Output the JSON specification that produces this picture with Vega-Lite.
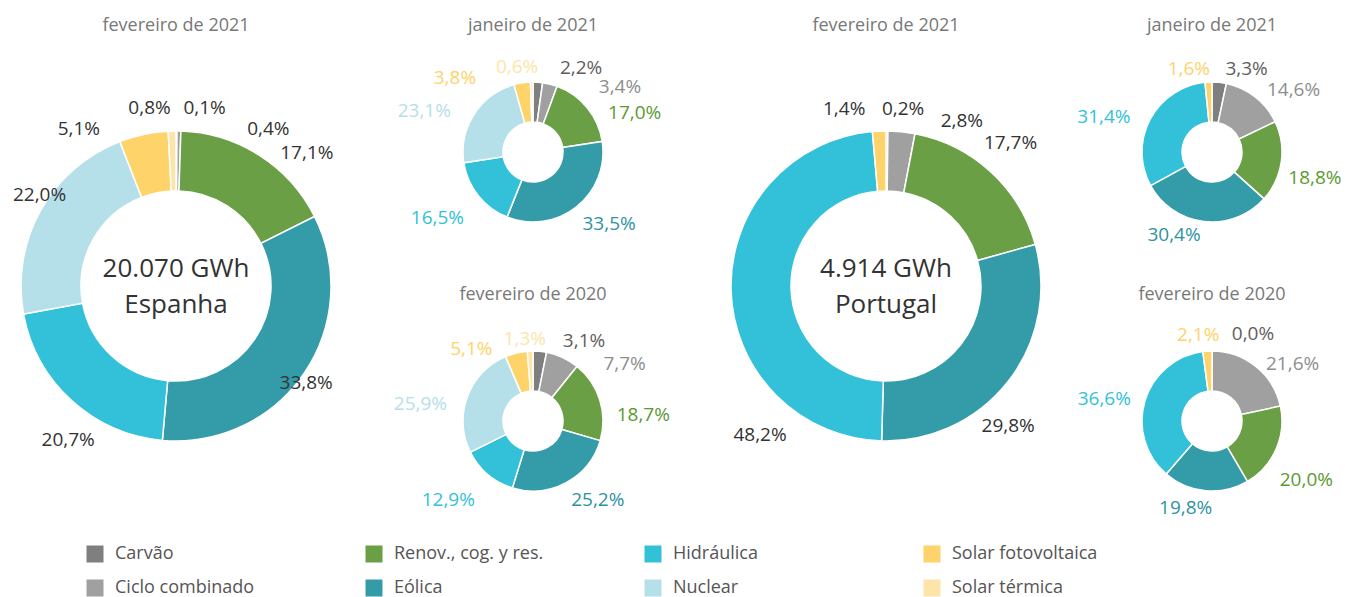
{
  "$schema": "https://vega.github.io/schema/vega-lite/v6.json",
  "background": "white",
  "padding": {"left": 12, "top": 17, "right": 0, "bottom": 0},
  "datasets": {
    "rows": [
      {"chart": "ES_2021_02", "cat": "Carvão", "ord": 1, "v": 0.001},
      {"chart": "ES_2021_02", "cat": "Ciclo combinado", "ord": 2, "v": 0.004},
      {"chart": "ES_2021_02", "cat": "Renov., cog. y res.", "ord": 3, "v": 0.171},
      {"chart": "ES_2021_02", "cat": "Eólica", "ord": 4, "v": 0.338},
      {"chart": "ES_2021_02", "cat": "Hidráulica", "ord": 5, "v": 0.207},
      {"chart": "ES_2021_02", "cat": "Nuclear", "ord": 6, "v": 0.220},
      {"chart": "ES_2021_02", "cat": "Solar fotovoltaica", "ord": 7, "v": 0.051},
      {"chart": "ES_2021_02", "cat": "Solar térmica", "ord": 8, "v": 0.008},
      {"chart": "ES_2021_01", "cat": "Carvão", "ord": 1, "v": 0.022},
      {"chart": "ES_2021_01", "cat": "Ciclo combinado", "ord": 2, "v": 0.034},
      {"chart": "ES_2021_01", "cat": "Renov., cog. y res.", "ord": 3, "v": 0.170},
      {"chart": "ES_2021_01", "cat": "Eólica", "ord": 4, "v": 0.335},
      {"chart": "ES_2021_01", "cat": "Hidráulica", "ord": 5, "v": 0.165},
      {"chart": "ES_2021_01", "cat": "Nuclear", "ord": 6, "v": 0.231},
      {"chart": "ES_2021_01", "cat": "Solar fotovoltaica", "ord": 7, "v": 0.038},
      {"chart": "ES_2021_01", "cat": "Solar térmica", "ord": 8, "v": 0.006},
      {"chart": "ES_2020_02", "cat": "Carvão", "ord": 1, "v": 0.031},
      {"chart": "ES_2020_02", "cat": "Ciclo combinado", "ord": 2, "v": 0.077},
      {"chart": "ES_2020_02", "cat": "Renov., cog. y res.", "ord": 3, "v": 0.187},
      {"chart": "ES_2020_02", "cat": "Eólica", "ord": 4, "v": 0.252},
      {"chart": "ES_2020_02", "cat": "Hidráulica", "ord": 5, "v": 0.129},
      {"chart": "ES_2020_02", "cat": "Nuclear", "ord": 6, "v": 0.259},
      {"chart": "ES_2020_02", "cat": "Solar fotovoltaica", "ord": 7, "v": 0.051},
      {"chart": "ES_2020_02", "cat": "Solar térmica", "ord": 8, "v": 0.013},
      {"chart": "PT_2021_02", "cat": "Carvão", "ord": 1, "v": 0.002},
      {"chart": "PT_2021_02", "cat": "Ciclo combinado", "ord": 2, "v": 0.028},
      {"chart": "PT_2021_02", "cat": "Renov., cog. y res.", "ord": 3, "v": 0.177},
      {"chart": "PT_2021_02", "cat": "Eólica", "ord": 4, "v": 0.298},
      {"chart": "PT_2021_02", "cat": "Hidráulica", "ord": 5, "v": 0.482},
      {"chart": "PT_2021_02", "cat": "Solar fotovoltaica", "ord": 7, "v": 0.014},
      {"chart": "PT_2021_01", "cat": "Carvão", "ord": 1, "v": 0.033},
      {"chart": "PT_2021_01", "cat": "Ciclo combinado", "ord": 2, "v": 0.146},
      {"chart": "PT_2021_01", "cat": "Renov., cog. y res.", "ord": 3, "v": 0.188},
      {"chart": "PT_2021_01", "cat": "Eólica", "ord": 4, "v": 0.304},
      {"chart": "PT_2021_01", "cat": "Hidráulica", "ord": 5, "v": 0.314},
      {"chart": "PT_2021_01", "cat": "Solar fotovoltaica", "ord": 7, "v": 0.016},
      {"chart": "PT_2020_02", "cat": "Carvão", "ord": 1, "v": 0.000},
      {"chart": "PT_2020_02", "cat": "Ciclo combinado", "ord": 2, "v": 0.216},
      {"chart": "PT_2020_02", "cat": "Renov., cog. y res.", "ord": 3, "v": 0.200},
      {"chart": "PT_2020_02", "cat": "Eólica", "ord": 4, "v": 0.198},
      {"chart": "PT_2020_02", "cat": "Hidráulica", "ord": 5, "v": 0.366},
      {"chart": "PT_2020_02", "cat": "Solar fotovoltaica", "ord": 7, "v": 0.021}
    ],
    "totals": [
      {"chart": "ES_2021_02", "gwh": 20070, "name": "Espanha"},
      {"chart": "PT_2021_02", "gwh": 4914, "name": "Portugal"}
    ]
  },
  "config": {
    "view": {"stroke": null},
    "font": "Open Sans",
    "locale": {"number": {"decimal": ",", "thousands": ".", "grouping": [3], "currency": ["", " GWh"]}},
    "title": {"fontSize": 18, "color": "#787878", "fontWeight": "normal", "font": "Open Sans", "frame": "group", "baseline": "alphabetic", "offset": 17},
    "legend": {
      "symbolType": "square", "symbolSize": 289, "symbolStrokeWidth": 0,
      "labelFontSize": 18, "labelFont": "Open Sans", "labelColor": "#555555", "labelOffset": 11,
      "rowPadding": 16, "columnPadding": 100, "gridAlign": "all", "labelLimit": 300
    }
  },
  "spacing": 33,
  "resolve": {"scale": {"theta": "independent", "color": "shared", "fill": "shared"}, "legend": {"color": "shared"}},
  "hconcat": [
    {
      "title": {"text": "fevereiro de 2021"},
      "width": 324, "height": 468,
      "layer": [
        {
          "data": {"name": "rows"},
          "transform": [{"filter": "datum.chart === 'ES_2021_02'"}],
          "mark": {"type": "arc", "innerRadius": 95, "outerRadius": 155, "stroke": "white", "strokeWidth": 1.5},
          "encoding": {
            "theta": {"field": "v", "type": "quantitative", "stack": true},
            "order": {"field": "ord", "type": "quantitative"},
            "color": {"field": "cat", "type": "nominal", "title": null,
              "legend": {"orient": "none", "legendX": 72, "legendY": 493, "direction": "horizontal", "columns": 4, "title": null},
              "scale": {"domain": ["Carvão", "Renov., cog. y res.", "Hidráulica", "Solar fotovoltaica", "Ciclo combinado", "Eólica", "Nuclear", "Solar térmica"],
                        "range": ["#7f7f7f", "#6a9f46", "#33c1d9", "#fdd36a", "#a0a0a0", "#349ca8", "#b5e0ea", "#fde5a9"]}}
          }
        },
        {
          "data": {"name": "rows"},
          "transform": [{"filter": "datum.chart === 'ES_2021_02'"}],
          "mark": {"type": "text", "radius": 178, "fontSize": 19, "font": "Open Sans", "color": "#333333",
            "dx": {"expr": "[28,89,35,-17,12,19,-60,-22][datum.ord-1]"},
            "dy": {"expr": "[0,21,17,-3,22,-4,17,0][datum.ord-1]"}},
          "encoding": {
            "theta": {"field": "v", "type": "quantitative", "stack": true},
            "order": {"field": "ord", "type": "quantitative"},
            "text": {"field": "v", "type": "quantitative", "format": ".1%"}
          }
        },
        {
          "data": {"name": "totals"},
          "transform": [{"filter": "datum.chart === 'ES_2021_02'"}],
          "mark": {"type": "text", "fontSize": 26, "font": "Open Sans", "color": "#333333", "dy": -17},
          "encoding": {"text": {"field": "gwh", "type": "quantitative", "format": "$,.0f"}}
        },
        {
          "data": {"name": "totals"},
          "transform": [{"filter": "datum.chart === 'ES_2021_02'"}],
          "mark": {"type": "text", "fontSize": 26, "font": "Open Sans", "color": "#333333", "dy": 19},
          "encoding": {"text": {"field": "name", "type": "nominal"}}
        }
      ]
    },
    {
      "bounds": "flush",
      "spacing": 69,
      "resolve": {"scale": {"theta": "independent", "color": "shared", "fill": "shared"}, "legend": {"color": "shared"}},
      "vconcat": [
        {
          "title": {"text": "janeiro de 2021"},
          "width": 324, "height": 200,
          "data": {"name": "rows"},
          "transform": [{"filter": "datum.chart === 'ES_2021_01'"}],
          "layer": [
            {
              "mark": {"type": "arc", "innerRadius": 30, "outerRadius": 70, "stroke": "white", "strokeWidth": 1.5},
              "encoding": {
                "theta": {"field": "v", "type": "quantitative", "stack": true},
                "order": {"field": "ord", "type": "quantitative"},
                "color": {"field": "cat", "type": "nominal", "title": null,
                  "legend": {"orient": "none", "legendX": 72, "legendY": 493, "direction": "horizontal", "columns": 4, "title": null},
                  "scale": {"domain": ["Carvão", "Renov., cog. y res.", "Hidráulica", "Solar fotovoltaica", "Ciclo combinado", "Eólica", "Nuclear", "Solar térmica"],
                            "range": ["#7f7f7f", "#6a9f46", "#33c1d9", "#fdd36a", "#a0a0a0", "#349ca8", "#b5e0ea", "#fde5a9"]}}
              }
            },
            {
              "mark": {"type": "text", "radius": 103, "fontSize": 19, "font": "Open Sans",
                "dx": {"expr": "[41,62,22,12,-15,-22,-62,-14][datum.ord-1]"},
                "dy": {"expr": "[19,35,26,-9,2,15,28,18][datum.ord-1]"}},
              "encoding": {
                "theta": {"field": "v", "type": "quantitative", "stack": true},
                "order": {"field": "ord", "type": "quantitative"},
                "text": {"field": "v", "type": "quantitative", "format": ".1%"},
                "fill": {"field": "cat", "type": "nominal", "legend": null,
                  "scale": {"domain": ["Carvão", "Renov., cog. y res.", "Hidráulica", "Solar fotovoltaica", "Ciclo combinado", "Eólica", "Nuclear", "Solar térmica"],
                            "range": ["#5e5e5e", "#5b9a31", "#33c1d9", "#fdd36a", "#8e8e8e", "#2e93a0", "#b5e0ea", "#fde5a9"]}}
              }
            }
          ]
        },
        {
          "title": {"text": "fevereiro de 2020"},
          "width": 324, "height": 200,
          "data": {"name": "rows"},
          "transform": [{"filter": "datum.chart === 'ES_2020_02'"}],
          "layer": [
            {
              "mark": {"type": "arc", "innerRadius": 30, "outerRadius": 70, "stroke": "white", "strokeWidth": 1.5},
              "encoding": {
                "theta": {"field": "v", "type": "quantitative", "stack": true},
                "order": {"field": "ord", "type": "quantitative"},
                "color": {"field": "cat", "type": "nominal", "title": null,
                  "legend": {"orient": "none", "legendX": 72, "legendY": 493, "direction": "horizontal", "columns": 4, "title": null},
                  "scale": {"domain": ["Carvão", "Renov., cog. y res.", "Hidráulica", "Solar fotovoltaica", "Ciclo combinado", "Eólica", "Nuclear", "Solar térmica"],
                            "range": ["#7f7f7f", "#6a9f46", "#33c1d9", "#fdd36a", "#a0a0a0", "#349ca8", "#b5e0ea", "#fde5a9"]}}
              }
            },
            {
              "mark": {"type": "text", "radius": 103, "fontSize": 19, "font": "Open Sans",
                "dx": {"expr": "[41,48,12,16,-18,-16,-37,-4][datum.ord-1]"},
                "dy": {"expr": "[23,36,25,-12,1,19,28,21][datum.ord-1]"}},
              "encoding": {
                "theta": {"field": "v", "type": "quantitative", "stack": true},
                "order": {"field": "ord", "type": "quantitative"},
                "text": {"field": "v", "type": "quantitative", "format": ".1%"},
                "fill": {"field": "cat", "type": "nominal", "legend": null,
                  "scale": {"domain": ["Carvão", "Renov., cog. y res.", "Hidráulica", "Solar fotovoltaica", "Ciclo combinado", "Eólica", "Nuclear", "Solar térmica"],
                            "range": ["#5e5e5e", "#5b9a31", "#33c1d9", "#fdd36a", "#8e8e8e", "#2e93a0", "#b5e0ea", "#fde5a9"]}}
              }
            }
          ]
        }
      ]
    },
    {
      "title": {"text": "fevereiro de 2021"},
      "width": 298, "height": 468,
      "layer": [
        {
          "data": {"name": "rows"},
          "transform": [{"filter": "datum.chart === 'PT_2021_02'"}],
          "mark": {"type": "arc", "innerRadius": 95, "outerRadius": 155, "stroke": "white", "strokeWidth": 1.5},
          "encoding": {
            "theta": {"field": "v", "type": "quantitative", "stack": true},
            "order": {"field": "ord", "type": "quantitative"},
            "color": {"field": "cat", "type": "nominal", "title": null,
              "legend": {"orient": "none", "legendX": 72, "legendY": 493, "direction": "horizontal", "columns": 4, "title": null},
              "scale": {"domain": ["Carvão", "Renov., cog. y res.", "Hidráulica", "Solar fotovoltaica", "Ciclo combinado", "Eólica", "Nuclear", "Solar térmica"],
                        "range": ["#7f7f7f", "#6a9f46", "#33c1d9", "#fdd36a", "#a0a0a0", "#349ca8", "#b5e0ea", "#fde5a9"]}}
          }
        },
        {
          "data": {"name": "rows"},
          "transform": [{"filter": "datum.chart === 'PT_2021_02'"}],
          "mark": {"type": "text", "radius": 178, "fontSize": 19, "font": "Open Sans", "color": "#333333",
            "dx": {"expr": "[16,58,4,-18,52,0,-34,0][datum.ord-1]"},
            "dy": {"expr": "[1,12,-12,30,144,0,1,0][datum.ord-1]"}},
          "encoding": {
            "theta": {"field": "v", "type": "quantitative", "stack": true},
            "order": {"field": "ord", "type": "quantitative"},
            "text": {"field": "v", "type": "quantitative", "format": ".1%"}
          }
        },
        {
          "data": {"name": "totals"},
          "transform": [{"filter": "datum.chart === 'PT_2021_02'"}],
          "mark": {"type": "text", "fontSize": 26, "font": "Open Sans", "color": "#333333", "dy": -17},
          "encoding": {"text": {"field": "gwh", "type": "quantitative", "format": "$,.0f"}}
        },
        {
          "data": {"name": "totals"},
          "transform": [{"filter": "datum.chart === 'PT_2021_02'"}],
          "mark": {"type": "text", "fontSize": 26, "font": "Open Sans", "color": "#333333", "dy": 19},
          "encoding": {"text": {"field": "name", "type": "nominal"}}
        }
      ]
    },
    {
      "bounds": "flush",
      "spacing": 69,
      "resolve": {"scale": {"theta": "independent", "color": "shared", "fill": "shared"}, "legend": {"color": "shared"}},
      "vconcat": [
        {
          "title": {"text": "janeiro de 2021"},
          "width": 200, "height": 200,
          "data": {"name": "rows"},
          "transform": [{"filter": "datum.chart === 'PT_2021_01'"}],
          "layer": [
            {
              "mark": {"type": "arc", "innerRadius": 30, "outerRadius": 70, "stroke": "white", "strokeWidth": 1.5},
              "encoding": {
                "theta": {"field": "v", "type": "quantitative", "stack": true},
                "order": {"field": "ord", "type": "quantitative"},
                "color": {"field": "cat", "type": "nominal", "title": null,
                  "legend": {"orient": "none", "legendX": 72, "legendY": 493, "direction": "horizontal", "columns": 4, "title": null},
                  "scale": {"domain": ["Carvão", "Renov., cog. y res.", "Hidráulica", "Solar fotovoltaica", "Ciclo combinado", "Eólica", "Nuclear", "Solar térmica"],
                            "range": ["#7f7f7f", "#6a9f46", "#33c1d9", "#fdd36a", "#a0a0a0", "#349ca8", "#b5e0ea", "#fde5a9"]}}
              }
            },
            {
              "mark": {"type": "text", "radius": 103, "fontSize": 19, "font": "Open Sans",
                "dx": {"expr": "[24,18,1,-26,-17,0,-18,0][datum.ord-1]"},
                "dy": {"expr": "[19,19,11,-19,13,0,20,0][datum.ord-1]"}},
              "encoding": {
                "theta": {"field": "v", "type": "quantitative", "stack": true},
                "order": {"field": "ord", "type": "quantitative"},
                "text": {"field": "v", "type": "quantitative", "format": ".1%"},
                "fill": {"field": "cat", "type": "nominal", "legend": null,
                  "scale": {"domain": ["Carvão", "Renov., cog. y res.", "Hidráulica", "Solar fotovoltaica", "Ciclo combinado", "Eólica", "Nuclear", "Solar térmica"],
                            "range": ["#5e5e5e", "#5b9a31", "#33c1d9", "#fdd36a", "#8e8e8e", "#2e93a0", "#b5e0ea", "#fde5a9"]}}
              }
            }
          ]
        },
        {
          "title": {"text": "fevereiro de 2020"},
          "width": 200, "height": 200,
          "data": {"name": "rows"},
          "transform": [{"filter": "datum.chart === 'PT_2020_02'"}],
          "layer": [
            {
              "mark": {"type": "arc", "innerRadius": 30, "outerRadius": 70, "stroke": "white", "strokeWidth": 1.5},
              "encoding": {
                "theta": {"field": "v", "type": "quantitative", "stack": true},
                "order": {"field": "ord", "type": "quantitative"},
                "color": {"field": "cat", "type": "nominal", "title": null,
                  "legend": {"orient": "none", "legendX": 72, "legendY": 493, "direction": "horizontal", "columns": 4, "title": null},
                  "scale": {"domain": ["Carvão", "Renov., cog. y res.", "Hidráulica", "Solar fotovoltaica", "Ciclo combinado", "Eólica", "Nuclear", "Solar térmica"],
                            "range": ["#7f7f7f", "#6a9f46", "#33c1d9", "#fdd36a", "#a0a0a0", "#349ca8", "#b5e0ea", "#fde5a9"]}}
              }
            },
            {
              "mark": {"type": "text", "radius": 103, "fontSize": 19, "font": "Open Sans",
                "dx": {"expr": "[41,16,0,-17,-9,0,-7,0][datum.ord-1]"},
                "dy": {"expr": "[16,23,18,-16,7,0,17,0][datum.ord-1]"}},
              "encoding": {
                "theta": {"field": "v", "type": "quantitative", "stack": true},
                "order": {"field": "ord", "type": "quantitative"},
                "text": {"field": "v", "type": "quantitative", "format": ".1%"},
                "fill": {"field": "cat", "type": "nominal", "legend": null,
                  "scale": {"domain": ["Carvão", "Renov., cog. y res.", "Hidráulica", "Solar fotovoltaica", "Ciclo combinado", "Eólica", "Nuclear", "Solar térmica"],
                            "range": ["#5e5e5e", "#5b9a31", "#33c1d9", "#fdd36a", "#8e8e8e", "#2e93a0", "#b5e0ea", "#fde5a9"]}}
              }
            }
          ]
        }
      ]
    }
  ]
}
